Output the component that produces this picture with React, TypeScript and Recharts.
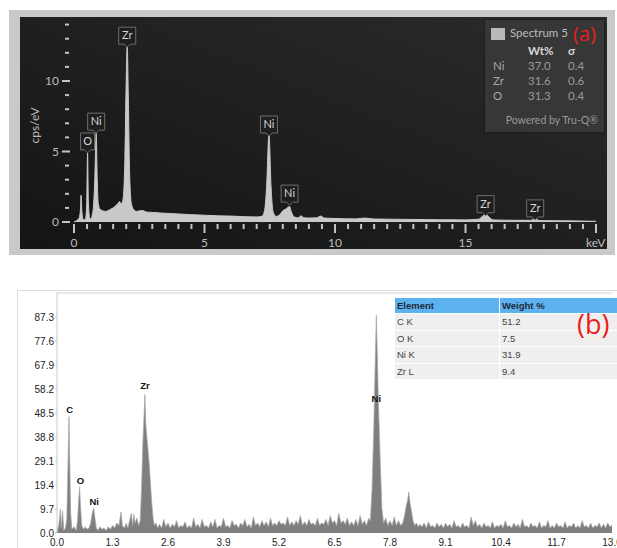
import { Area, AreaChart, ReferenceDot, ReferenceLine, XAxis, YAxis } from "recharts"

// (a) spectrum 5: [keV, cps/eV]
const spectrumA: [number, number][] = [
  [0, 0], [0.1, 0.1], [0.2, 0.3], [0.25, 1.0], [0.27, 1.9], [0.3, 0.8], [0.35, 0.2],
  [0.4, 0.15], [0.45, 0.3], [0.49, 1.5], [0.52, 4.9], [0.55, 1.5], [0.6, 0.3],
  [0.65, 0.2], [0.7, 0.5], [0.75, 1.2], [0.8, 3.2], [0.85, 6.3], [0.89, 3.0],
  [0.93, 1.3], [1.0, 0.9], [1.1, 0.8], [1.2, 0.75], [1.3, 0.8], [1.4, 0.9],
  [1.5, 1.0], [1.6, 1.15], [1.7, 1.35], [1.75, 1.45], [1.8, 1.3], [1.85, 1.4],
  [1.9, 2.0], [1.95, 4.5], [2.0, 10.0], [2.04, 12.5], [2.08, 9.0], [2.13, 3.5],
  [2.2, 1.3], [2.3, 0.85], [2.4, 0.75], [2.6, 0.82], [2.8, 0.7], [3.0, 0.68],
  [3.5, 0.62], [4.0, 0.57], [4.5, 0.52], [5.0, 0.48], [5.5, 0.44], [6.0, 0.42],
  [6.5, 0.38], [7.0, 0.36], [7.2, 0.4], [7.3, 0.8], [7.38, 2.5], [7.47, 6.2],
  [7.55, 2.5], [7.63, 0.7], [7.75, 0.4], [7.9, 0.55], [8.0, 0.8], [8.1, 0.9],
  [8.2, 1.05], [8.26, 1.1], [8.33, 0.7], [8.45, 0.35], [8.6, 0.3], [8.7, 0.45],
  [8.8, 0.3], [9.0, 0.28], [9.3, 0.3], [9.45, 0.42], [9.6, 0.28], [10, 0.25],
  [10.8, 0.22], [11.15, 0.28], [11.5, 0.21], [12, 0.2], [13, 0.18], [14, 0.16],
  [15, 0.15], [15.5, 0.2], [15.65, 0.4], [15.77, 0.55], [15.9, 0.35], [16.05, 0.15],
  [17, 0.12], [17.5, 0.12], [17.67, 0.2], [17.85, 0.1], [19, 0.08], [20, 0.05],
]

// [element, keV, peak cps/eV]
const peakTagsA: [string, number, number][] = [
  ["O", 0.52, 4.9],
  ["Ni", 0.85, 6.3],
  ["Zr", 2.04, 12.4],
  ["Ni", 7.47, 6.1],
  ["Ni", 8.26, 1.2],
  ["Zr", 15.77, 0.45],
  ["Zr", 17.67, 0.15],
]

const xTicksA = [
  0, 0.5, 1, 1.5, 2, 2.5, 3, 3.5, 4, 4.5, 5, 5.5, 6, 6.5, 7, 7.5, 8, 8.5, 9, 9.5, 10,
  10.5, 11, 11.5, 12, 12.5, 13, 13.5, 14, 14.5, 15, 15.5, 16, 16.5, 17, 17.5, 18, 18.5,
  19, 19.5, 20,
]
const xLabelsA = [0, 5, 10, 15]
const yTicksA = [0, 1, 2, 3, 4, 5, 6, 7, 8, 9, 10, 11, 12, 13, 14]

const quantA: [string, string, string][] = [
  ["Ni", "37.0", "0.4"],
  ["Zr", "31.6", "0.6"],
  ["O", "31.3", "0.4"],
]

// (b) spectrum: [keV, counts]
const spectrumB: [number, number][] = [
  [0, 0.5], [0.04, 3], [0.08, 9.7], [0.1, 2], [0.13, 9], [0.16, 1], [0.2, 2], [0.23, 6],
  [0.26, 30], [0.28, 47], [0.3, 28], [0.32, 8], [0.35, 1.5], [0.4, 2.5], [0.45, 1],
  [0.48, 5], [0.51, 14], [0.53, 18.6], [0.55, 11], [0.58, 3], [0.62, 1.5], [0.66, 2.5],
  [0.7, 1.5], [0.75, 2], [0.79, 4], [0.83, 8.5], [0.86, 10], [0.89, 6], [0.92, 2],
  [0.96, 1], [1.0, 2.5], [1.05, 1.5], [1.1, 2], [1.15, 1], [1.2, 2.5], [1.25, 1.5],
  [1.3, 3], [1.35, 2], [1.4, 4], [1.45, 3], [1.5, 8.5], [1.53, 3], [1.58, 2], [1.62, 4],
  [1.66, 2], [1.7, 5], [1.74, 8], [1.77, 3], [1.8, 7.5], [1.83, 4], [1.87, 6], [1.91, 3],
  [1.95, 5], [1.98, 18], [2.01, 36], [2.04, 48], [2.06, 56], [2.08, 44], [2.1, 40],
  [2.13, 34], [2.16, 28], [2.19, 20], [2.22, 12], [2.25, 6], [2.28, 3], [2.32, 4],
  [2.36, 2], [2.4, 3.5], [2.45, 2], [2.5, 5.5], [2.55, 2.5], [2.6, 4], [2.65, 2],
  [2.7, 3.5], [2.75, 2.5], [2.8, 5], [2.85, 2], [2.9, 3], [2.95, 2.5], [3.0, 4.5],
  [3.05, 2], [3.1, 3], [3.15, 2], [3.2, 6], [3.25, 2.5], [3.3, 3.5], [3.35, 2],
  [3.4, 5.5], [3.45, 2.5], [3.5, 3], [3.55, 2], [3.6, 4.5], [3.65, 2.5], [3.7, 5.5],
  [3.75, 2], [3.8, 3], [3.85, 2.5], [3.9, 6], [3.95, 2.5], [4.0, 3], [4.05, 2],
  [4.1, 5], [4.15, 3], [4.2, 3.5], [4.25, 2], [4.3, 4], [4.35, 3], [4.4, 5.5],
  [4.45, 2.5], [4.5, 3.5], [4.55, 2], [4.6, 6.5], [4.65, 3], [4.7, 4], [4.75, 2.5],
  [4.8, 5], [4.85, 3], [4.9, 4.5], [4.95, 2.5], [5.0, 6], [5.05, 3], [5.1, 4],
  [5.15, 3], [5.2, 5], [5.25, 3.5], [5.3, 4], [5.35, 3], [5.4, 6.5], [5.45, 3],
  [5.5, 4.5], [5.55, 3], [5.6, 5], [5.65, 3.5], [5.7, 7], [5.75, 3], [5.8, 4.5],
  [5.85, 3], [5.9, 5.5], [5.95, 3.5], [6.0, 4], [6.05, 3], [6.1, 6], [6.15, 3],
  [6.2, 4], [6.25, 3.5], [6.3, 5.5], [6.35, 3], [6.4, 7], [6.45, 4], [6.5, 5],
  [6.55, 3], [6.6, 8], [6.65, 4], [6.7, 5], [6.75, 3.5], [6.8, 6], [6.85, 3],
  [6.9, 4.5], [6.95, 3], [7.0, 5.5], [7.05, 3], [7.1, 7], [7.15, 3.5], [7.2, 5],
  [7.25, 3], [7.3, 6], [7.34, 5], [7.38, 18], [7.42, 42], [7.45, 66], [7.48, 88],
  [7.5, 74], [7.53, 52], [7.57, 30], [7.61, 10], [7.65, 4], [7.7, 6], [7.75, 3],
  [7.8, 5], [7.85, 3], [7.9, 6.5], [7.95, 3], [8.0, 5], [8.05, 3], [8.1, 4], [8.14, 7],
  [8.18, 11], [8.21, 13], [8.24, 16.6], [8.27, 12], [8.3, 9], [8.34, 5], [8.38, 3],
  [8.42, 4], [8.46, 2.5], [8.5, 3.5], [8.55, 2.5], [8.6, 4], [8.65, 2], [8.7, 4.5],
  [8.75, 2.5], [8.8, 3], [8.85, 2], [8.9, 4], [8.95, 2.5], [9.0, 3.5], [9.05, 2],
  [9.1, 4], [9.15, 2.5], [9.2, 3.5], [9.25, 2], [9.3, 5], [9.35, 2.5], [9.4, 3],
  [9.45, 2], [9.5, 4], [9.55, 2.5], [9.6, 3], [9.65, 2], [9.7, 6.5], [9.75, 3],
  [9.8, 5], [9.85, 2.5], [9.9, 3.5], [9.95, 2], [10.0, 4], [10.05, 2.5], [10.1, 3],
  [10.15, 2], [10.2, 4.5], [10.25, 2], [10.3, 3], [10.35, 2.5], [10.4, 3.5], [10.45, 2],
  [10.5, 5], [10.55, 2.5], [10.6, 3], [10.65, 2], [10.7, 4], [10.75, 2.5], [10.8, 3.5],
  [10.85, 2], [10.9, 5.5], [10.95, 2.5], [11.0, 3], [11.05, 2], [11.1, 4], [11.15, 2.5],
  [11.2, 3], [11.25, 2], [11.3, 4.5], [11.35, 2], [11.4, 3], [11.45, 2.5], [11.5, 5],
  [11.55, 2], [11.6, 3], [11.65, 2], [11.7, 4], [11.75, 2.5], [11.8, 3], [11.85, 2],
  [11.9, 4.5], [11.95, 2], [12.0, 3], [12.05, 2.5], [12.1, 4], [12.15, 2], [12.2, 3],
  [12.25, 2], [12.3, 5], [12.35, 2.5], [12.4, 3], [12.45, 2], [12.5, 4], [12.55, 2],
  [12.6, 3], [12.65, 2.5], [12.7, 4], [12.75, 2], [12.8, 3.5], [12.85, 2], [12.9, 4],
  [12.95, 2.5], [13.0, 3],
]

// [element, keV, label height in counts]
const peakLabelsB: [string, number, number][] = [
  ["C", 0.3, 48.5],
  ["O", 0.55, 20],
  ["Ni", 0.87, 11.5],
  ["Zr", 2.06, 58],
  ["Ni", 7.48, 53],
]

const xTicksB = [0, 1.3, 2.6, 3.9, 5.2, 6.5, 7.8, 9.1, 10.4, 11.7, 13]
const yTicksB = [0, 9.7, 19.4, 29.1, 38.8, 48.5, 58.2, 67.9, 77.6, 87.3]

const quantB: [string, string][] = [
  ["C K", "51.2"],
  ["O K", "7.5"],
  ["Ni K", "31.9"],
  ["Zr L", "9.4"],
]

const dataA = spectrumA.map(([kev, cps]) => ({ kev, cps }))
const dataB = spectrumB.map(([kev, counts]) => ({ kev, counts }))

const uiFont = "Lato, 'Open Sans', sans-serif"
const redFont = "'Open Sans', 'Noto Sans', sans-serif"
const plainFont = "'Liberation Sans', Arial, sans-serif"

const TickA = ({ x, payload }: any) => {
  const major = payload.value % 5 === 0
  return (
    <g>
      <rect x={x - 1} y={214} width={2} height={major ? 9 : 5} fill="#c4c4c4" />
      {xLabelsA.includes(payload.value) && (
        <text x={x} y={237} textAnchor="middle" fill="#bdbdbd" fontSize={12} fontFamily={uiFont}>
          {payload.value}
        </text>
      )}
    </g>
  )
}

const TickYA = ({ y, payload }: any) => {
  const major = payload.value % 5 === 0
  return (
    <g>
      <rect x={major ? 52 : 55} y={y - 1} width={major ? 8 : 4} height={2} fill="#c4c4c4" />
      {major && (
        <text x={49} y={y + 4} textAnchor="end" fill="#bdbdbd" fontSize={12} fontFamily={uiFont}>
          {payload.value}
        </text>
      )}
    </g>
  )
}

const PeakTagA = ({ cx, cy, text }: any) => {
  const w = text.length > 1 ? 17 : 14
  const bottom = cy - 3
  return (
    <g>
      <path
        d={`M${cx - w / 2},${bottom - 17} h${w} v17 h${-(w / 2 - 3)} l-3,3 l-3,-3 h${-(w / 2 - 3)} z`}
        fill="#1e1e1e"
        stroke="#6e6e6e"
        strokeWidth={1}
      />
      <text x={cx} y={bottom - 5} textAnchor="middle" fill="#d6d6d6" fontSize={11} fontFamily={uiFont}>
        {text}
      </text>
    </g>
  )
}

const PeakLabelB = ({ cx, cy, text }: any) => (
  <text x={cx} y={cy} textAnchor="middle" fill="#111" fontSize={9.5} fontWeight={600} fontFamily={plainFont}>
    {text}
  </text>
)

export default function App() {
  return (
    <div
      style={{
        position: "absolute",
        left: 0,
        top: 0,
        width: 617,
        height: 548,
        overflow: "hidden",
        background: "#fff",
      }}
    >
      {/* panel (a) frame */}
      <div style={{ position: "absolute", left: 9, top: 10, width: 606, height: 245, background: "#c9c9c9" }} />
      <div
        style={{
          position: "absolute",
          left: 20,
          top: 17,
          width: 587,
          height: 232,
          background: "linear-gradient(to top right, #141414, #2b2b2b)",
        }}
      />
      <div style={{ position: "absolute", left: 10, top: 10 }}>
        <AreaChart width={605} height={246} data={dataA} margin={{ top: 14.6, right: 19, bottom: 0, left: 0 }}>
          <XAxis
            type="number"
            dataKey="kev"
            domain={[0, 20]}
            ticks={xTicksA}
            interval={0}
            height={34}
            axisLine={false}
            tickLine={false}
            tick={(p: any) => <TickA {...p} />}
          />
          <YAxis
            type="number"
            domain={[0, 14]}
            ticks={yTicksA}
            interval={0}
            width={64}
            axisLine={false}
            tickLine={false}
            tick={(p: any) => <TickYA {...p} />}
          />
          <Area
            type="monotone"
            dataKey="cps"
            stroke="#c9c9c9"
            strokeWidth={1}
            fill="#c9c9c9"
            fillOpacity={1}
            isAnimationActive={false}
          />
          {peakTagsA.map(([el, kev, v], i) => (
            <ReferenceDot
              key={i}
              x={kev}
              y={v}
              r={0}
              ifOverflow="visible"
              shape={(p: any) => <PeakTagA {...p} text={el} />}
            />
          ))}
        </AreaChart>
      </div>
      <div
        style={{
          position: "absolute",
          left: 12,
          top: 118,
          transform: "rotate(-90deg)",
          color: "#bdbdbd",
          fontSize: 12,
          fontFamily: uiFont,
          width: 44,
          textAlign: "center",
        }}
      >
        cps/eV
      </div>
      <div
        style={{
          position: "absolute",
          left: 586,
          top: 235,
          color: "#bdbdbd",
          fontSize: 12,
          fontFamily: uiFont,
        }}
      >
        keV
      </div>

      {/* panel (a) quant box */}
      <div
        style={{
          position: "absolute",
          left: 485,
          top: 20,
          width: 119,
          height: 112,
          background: "#373737",
          boxShadow: "0 0 2px #111",
          fontFamily: uiFont,
          color: "#a8a8a8",
          fontSize: 11.5,
        }}
      >
        <div style={{ position: "absolute", left: 6, top: 8, width: 14, height: 12, background: "#b9b9b9" }} />
        <div style={{ position: "absolute", left: 25, top: 6, fontSize: 11.5, color: "#bdbdbd" }}>Spectrum 5</div>
        <div
          style={{
            position: "absolute",
            left: 88,
            top: 0,
            fontSize: 20,
            color: "#e8201c",
            lineHeight: "28px",
            fontFamily: redFont,
          }}
        >
          (a)
        </div>
        <div style={{ position: "absolute", left: 43, top: 24, fontWeight: 700, color: "#d8d8d8" }}>Wt%</div>
        <div style={{ position: "absolute", left: 83, top: 24, fontWeight: 700, color: "#d8d8d8" }}>σ</div>
        {quantA.map(([el, wt, sd], i) => (
          <div key={el} style={{ position: "absolute", top: 39 + i * 15, left: 0, width: 119 }}>
            <span style={{ position: "absolute", left: 8 }}>{el}</span>
            <span style={{ position: "absolute", left: 43, color: "#9a9a9a" }}>{wt}</span>
            <span style={{ position: "absolute", left: 83, color: "#9a9a9a" }}>{sd}</span>
          </div>
        ))}
        <div style={{ position: "absolute", right: 6, top: 94, fontSize: 10.5, color: "#999" }}>Powered by Tru-Q®</div>
      </div>

      {/* panel (b) frame */}
      <div
        style={{
          position: "absolute",
          left: 17,
          top: 290,
          width: 620,
          height: 300,
          borderLeft: "1px solid #dcdcdc",
          borderTop: "1px solid #dcdcdc",
        }}
      />
      <div style={{ position: "absolute", left: 0, top: 283 }}>
        <AreaChart width={640} height={265} data={dataB} margin={{ top: 10, right: 28, bottom: 0, left: 0 }}>
          <XAxis
            type="number"
            dataKey="kev"
            domain={[0, 13]}
            ticks={xTicksB}
            interval={0}
            height={15}
            axisLine={false}
            tickLine={false}
            tickMargin={0}
            tickFormatter={(v: number) => v.toFixed(1)}
            tick={{ fontSize: 10, fill: "#222", fontFamily: plainFont }}
          />
          <YAxis
            type="number"
            domain={[0, 97]}
            ticks={yTicksB}
            interval={0}
            width={57}
            axisLine={{ stroke: "#c8c8c8" }}
            tickLine={{ stroke: "#c8c8c8" }}
            tickSize={2}
            tickMargin={1}
            tickFormatter={(v: number) => v.toFixed(1)}
            tick={{ fontSize: 10, fill: "#222", fontFamily: plainFont }}
          />
          <ReferenceLine y={97} stroke="#d0d0d0" ifOverflow="visible" />
          <Area
            type="linear"
            dataKey="counts"
            stroke="#a8a8a8"
            strokeWidth={0.7}
            fill="#7f7f7f"
            fillOpacity={1}
            isAnimationActive={false}
          />
          {peakLabelsB.map(([el, kev, v], i) => (
            <ReferenceDot
              key={i}
              x={kev}
              y={v}
              r={0}
              ifOverflow="visible"
              shape={(p: any) => <PeakLabelB {...p} text={el} />}
            />
          ))}
        </AreaChart>
      </div>

      {/* panel (b) table */}
      <div
        style={{
          position: "absolute",
          left: 395,
          top: 298,
          width: 240,
          fontFamily: plainFont,
          fontSize: 9.5,
          color: "#444",
        }}
      >
        <div style={{ display: "flex", height: 15, background: "#5cb1ef", fontWeight: 700, color: "#1c2a3a" }}>
          <div style={{ width: 102, paddingLeft: 2, lineHeight: "15px", borderRight: "1px solid #fff" }}>Element</div>
          <div style={{ paddingLeft: 2, lineHeight: "15px" }}>Weight %</div>
        </div>
        {quantB.map(([el, wt]) => (
          <div
            key={el}
            style={{ display: "flex", height: 15.5, background: "#efefef", borderTop: "1px solid #fff" }}
          >
            <div style={{ width: 102, paddingLeft: 2, lineHeight: "15.5px", borderRight: "1px solid #fff" }}>{el}</div>
            <div style={{ paddingLeft: 2, lineHeight: "15.5px" }}>{wt}</div>
          </div>
        ))}
      </div>
      <div
        style={{
          position: "absolute",
          left: 577,
          top: 306,
          fontSize: 27,
          color: "#e8201c",
          fontFamily: redFont,
          lineHeight: "36px",
        }}
      >
        (b)
      </div>
    </div>
  )
}
